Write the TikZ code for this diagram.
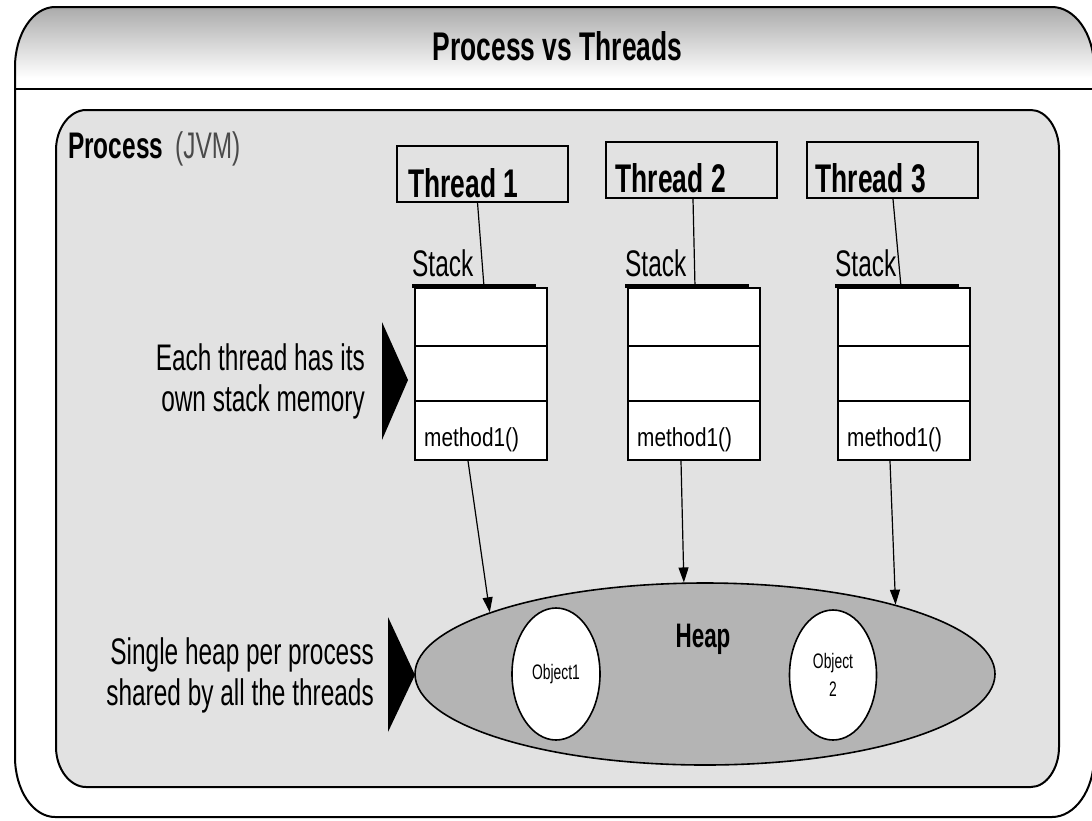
\documentclass[tikz,border=0pt]{standalone}
\usepackage{fontspec}
\setmainfont{Liberation Sans}
\newfontfamily\nar[FakeStretch=0.66]{Liberation Sans}
\newfontfamily\narw[FakeStretch=0.8]{Liberation Sans}
\usetikzlibrary{shapes.geometric,arrows.meta,calc}
\definecolor{procfill}{HTML}{E2E2E2}
\definecolor{heapfill}{HTML}{B4B4B4}
\definecolor{jvmgray}{HTML}{4A4A4A}

\begin{document}
\begin{tikzpicture}[x=1pt,y=-1pt,
  frameline/.style={draw=black, line width=2pt},
  threadbox/.style={draw=black, line width=2pt, minimum width=171pt, minimum height=56pt, inner sep=0pt},
  threadtxt/.style={font=\nar\bfseries\fontsize{40}{44}\selectfont, inner sep=0pt, anchor=base west},
  stackbox/.style={draw=black, line width=2pt, fill=white, minimum width=132pt, minimum height=172pt, inner sep=0pt},
  stackrow/.style={draw=black, line width=1.6pt},
  stacktop/.style={draw=black, line width=4pt},
  stacklbl/.style={font=\nar\fontsize{37}{40}\selectfont, inner sep=0pt, anchor=base west},
  methodtxt/.style={font=\narw\fontsize{26}{30}\selectfont, inner sep=0pt, anchor=base west},
  conn/.style={draw=black, line width=1.2pt},
  arr/.style={draw=black, line width=1.2pt, -{Triangle[length=15pt,width=10pt]}},
  heapshape/.style={ellipse, draw=black, line width=1.6pt, fill=heapfill, minimum width=580pt, minimum height=182pt, inner sep=0pt},
  objshape/.style={ellipse, draw=black, line width=1.6pt, fill=white, inner sep=0pt, align=center, font=\nar\fontsize{21}{25}\selectfont},
  note/.style={font=\nar\fontsize{37}{41}\selectfont, inner sep=0pt, align=right, anchor=north east},
  pointer/.style={fill=black}
]
\useasboundingbox (0,0) rectangle (1092,820);
\fill[white] (0,0) rectangle (1092,820);

% header band with a soft grey gradient
\begin{scope}
  \clip (15,67) .. controls (15,34) and (33,7) .. (55,7) -- (1052,7)
        .. controls (1075,7) and (1094,34) .. (1094,67) -- (1094,757)
        .. controls (1094,790) and (1075,817) .. (1052,817) -- (55,817)
        .. controls (33,817) and (15,790) .. (15,757) -- cycle;
  \shade[top color=black!33, bottom color=white] (0,7) rectangle (1100,78);
\end{scope}
\draw[frameline] (15,67) .. controls (15,34) and (33,7) .. (55,7) -- (1052,7)
        .. controls (1075,7) and (1094,34) .. (1094,67) -- (1094,757)
        .. controls (1094,790) and (1075,817) .. (1052,817) -- (55,817)
        .. controls (33,817) and (15,790) .. (15,757) -- cycle;
\draw[frameline] (15,89) -- (1094,89);
\node[font=\nar\bfseries\fontsize{40}{44}\selectfont, inner sep=0pt, anchor=base] (title) at (557.5,60) {Process vs Threads};

% process container
\draw[frameline, fill=procfill] (56,150) .. controls (56,128) and (70,110) .. (86,110) -- (1031,110)
      .. controls (1046,110) and (1059,128) .. (1059,150) -- (1059,747)
      .. controls (1059,769) and (1046,787) .. (1031,787) -- (86,787)
      .. controls (70,787) and (56,769) .. (56,747) -- cycle;
\node[inner sep=0pt, anchor=base west] (proc) at (68,158)
  {{\nar\bfseries\fontsize{37}{40}\selectfont Process}\hspace{12pt}{\nar\fontsize{37}{40}\selectfont\color{jvmgray}(JVM)}};

% threads
\node[threadbox] (t1) at (482.5,173.5) {};
\node[threadbox] (t2) at (691,170) {};
\node[threadbox] (t3) at (892,170) {};
\node[threadtxt] (t1l) at ($(t1.south west)+(12,-5)$) {Thread 1};
\node[threadtxt] (t2l) at ($(t2.south west)+(11,-7)$) {Thread 2};
\node[threadtxt] (t3l) at ($(t3.south west)+(10,-7)$) {Thread 3};

% stacks
\foreach \s/\cx in {s1/481, s2/694, s3/904} {
  \node[stackbox] (\s) at (\cx,374) {};
  \draw[stackrow] ($(\s.north west)+(0,59)$) -- ($(\s.north east)+(0,59)$);
  \draw[stackrow] ($(\s.north west)+(0,114)$) -- ($(\s.north east)+(0,114)$);
  \draw[stacktop] ($(\s.north west)+(-2,-1)$) -- ($(\s.north east)+(-12,-1)$);
  \node[stacklbl] (\s lbl) at ($(\s.north west)+(-2,-11)$) {Stack};
  \node[methodtxt] (\s m) at ($(\s.south west)+(10,-15)$) {method1()};
}

% thread to stack links
\draw[conn] ($(t1.south)+(-5,0)$) -- ($(s1.north west)+(70,0)$);
\draw[conn] ($(t2.south)+(2,0)$) -- ($(s2.north west)+(68,0)$);
\draw[conn] ($(t3.south)+(1,0)$) -- ($(s3.north west)+(64,0)$);

% heap with objects
\node[heapshape] (heap) at (705,674) {};
\node[objshape, minimum width=88pt, minimum height=132pt] (o1) at (556,674) {Object1};
\node[objshape, minimum width=87pt, minimum height=130pt] (o2) at (833,675) {Object\\[3pt]2};
\node[font=\nar\bfseries\fontsize{34}{38}\selectfont, inner sep=0pt, anchor=base] (heapl) at (703,647) {Heap};

% stack to heap references
\draw[arr] ($(s1.south)+(-13,0)$) -- (heap.164.8);
\draw[arr] ($(s2.south)+(-13,0)$) -- (heap.103);
\draw[arr] ($(s3.south)+(-14,0)$) -- (heap.20);

% side notes
\node[note] (n1) at (365,343) {Each thread has its\\own stack memory};
\fill[pointer] (382,322) -- (408,380) -- (382,440) -- cycle;
\node[note] (n2) at (374,637) {Single heap per process\\shared by all the threads};
\fill[pointer] (388,617) -- (415,675) -- (388,732) -- cycle;
\end{tikzpicture}
\end{document}
